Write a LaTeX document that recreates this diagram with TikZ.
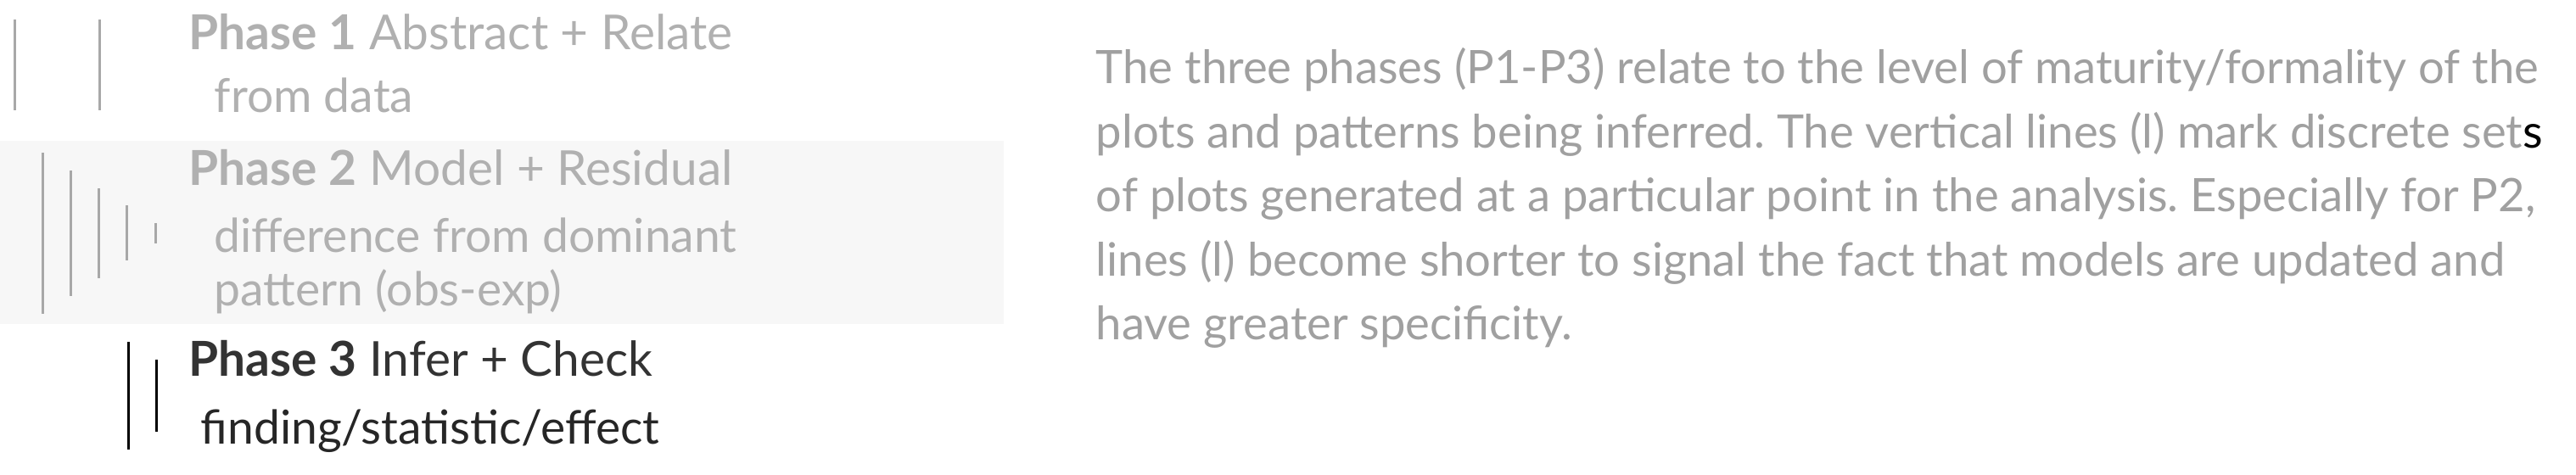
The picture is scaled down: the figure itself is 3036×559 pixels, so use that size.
\documentclass[tikz,border=0pt]{standalone}
\usepackage{fontspec}
\setmainfont{Lato}
\usepackage{xcolor}
\usetikzlibrary{positioning}
\frenchspacing

\definecolor{faded}{HTML}{B0B0B0}
\definecolor{fadedline}{HTML}{A8A8A8}
\definecolor{notegray}{HTML}{A0A0A0}
\definecolor{dark}{HTML}{333333}
\definecolor{panel}{HTML}{F7F7F7}

\begin{document}
\begin{tikzpicture}[
    x=0.25pt, y=-0.25pt,
    title/.style={anchor=base west, inner sep=0pt, font=\fontsize{14.2}{16}\selectfont},
    subtitle/.style={anchor=base west, inner sep=0pt, font=\fontsize{13.8}{16}\selectfont},
    note/.style={anchor=base west, inner sep=0pt, text=notegray, font=\fontsize{13.6}{18.75}\selectfont},
    tick/.style={line width=0.75pt}
]
    \useasboundingbox (0,0) rectangle (3036,559);

    % ================= PHASE 2 PANEL =================
    \fill[panel] (0,166) rectangle (1183,382);

    % ================= PHASE 1 =================
    \node[title, text=faded] (P1) at (222,58) {\textbf{Phase 1} Abstract + Relate};
    \node[subtitle, text=faded] (P1sub) at (252,132) {from data};
    \draw[tick, fadedline] (17,23) -- (17,130);
    \draw[tick, fadedline] (117,23) -- (117,130);

    % ================= PHASE 2 =================
    \node[title, text=faded] (P2) at (222,218) {\textbf{Phase 2} Model + Residual};
    \node[subtitle, text=faded] (P2sub) at (252,297) {difference from dominant};
    \node[subtitle, text=faded] (P2sub2) at (252,360) {pattern (obs-exp)};
    \draw[tick, fadedline] (50,180) -- (50,370);
    \draw[tick, fadedline] (83,201) -- (83,349);
    \draw[tick, fadedline] (116,222) -- (116,328);
    \draw[tick, fadedline] (149,242) -- (149,307);
    \draw[tick, fadedline] (183,263) -- (183,287);

    % ================= PHASE 3 =================
    \node[title, text=dark] (P3) at (222,443) {\textbf{Phase 3} Infer + Check};
    \node[subtitle, text=black!85] (P3sub) at (236,523) {finding/statistic/effect};
    \draw[tick, black] (151,403) -- (151,530);
    \draw[tick, black] (184,424) -- (184,509);

    % ================= NOTE =================
    \node[note] (N1) at (1291,98) {The three phases (P1-P3) relate to the level of maturity/formality of the};
    \node[note] (N2) at (1291,174) {plots and patterns being inferred. The vertical lines (l) mark discrete set\textcolor{black}{s}};
    \node[note] (N3) at (1291,249) {of plots generated at a particular point in the analysis. Especially for P2,};
    \node[note] (N4) at (1291,325) {lines (l) become shorter to signal the fact that models are updated and};
    \node[note] (N5) at (1291,400) {have greater specificity.};

\end{tikzpicture}
\end{document}
